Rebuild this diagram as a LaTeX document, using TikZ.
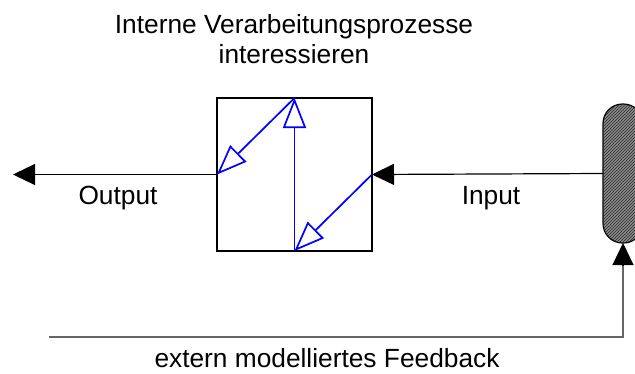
\documentclass[tikz,border=0pt]{standalone}
\usepackage{fontspec}
\setmainfont{Liberation Sans}
\usetikzlibrary{arrows.meta,patterns}
\begin{document}
\begin{tikzpicture}[x=1pt,y=-1pt,
  lbl/.style={font=\fontsize{26.3}{30}\selectfont, inner sep=0pt},
  blk/.style={line width=1.5pt, draw=black},
  blue arrow/.style={draw=blue, line width=1.7pt, -{Triangle[open, fill=white, length=30pt, width=23pt]}},
  black arrow/.style={line width=1.2pt, -{Triangle[length=22pt, width=21pt]}}]
\useasboundingbox (0,0) rectangle (635,373);
\node[blk, minimum width=155pt, minimum height=153pt, inner sep=0pt, outer sep=0pt] (box) at (294.5,174.5) {};
\begin{scope}
\clip (0,0) rectangle (635,373);
\node[draw=black, line width=1.2pt, rounded corners=19.5pt, minimum width=40pt, minimum height=139pt, inner sep=0pt, outer sep=0pt, fill=black!45, postaction={pattern=north east lines, pattern color=black!85}] (pill) at (623,173.5) {};
\end{scope}
\coordinate (out) at (13,174.5);
\coordinate (fb) at (49,337);
\draw[blue arrow] (box.south) -- (box.north);
\draw[blue arrow] (box.north) -- (box.west);
\draw[blue arrow] (box.east) -- (box.south);
\draw[black arrow] (box.west) -- (out);
\draw[black arrow] (pill.west) -- (box.east);
\draw[line width=1.4pt, draw=black!60] (fb) -- (fb -| pill.south) -- ([yshift=-23pt]pill.south);
\draw[black arrow] ([yshift=-23pt]pill.south) -- (pill.south);
\node[lbl, anchor=base] (outlbl) at (118,204) {Output};
\node[lbl, anchor=base] (inlbl) at (491,204) {Input};
\node[lbl, anchor=base] (t1) at (294,33) {Interne Verarbeitungsprozesse};
\node[lbl, anchor=base] (t2) at (294,63) {interessieren};
\node[lbl, anchor=base] (fblbl) at (327,367) {extern modelliertes Feedback};
\end{tikzpicture}
\end{document}
